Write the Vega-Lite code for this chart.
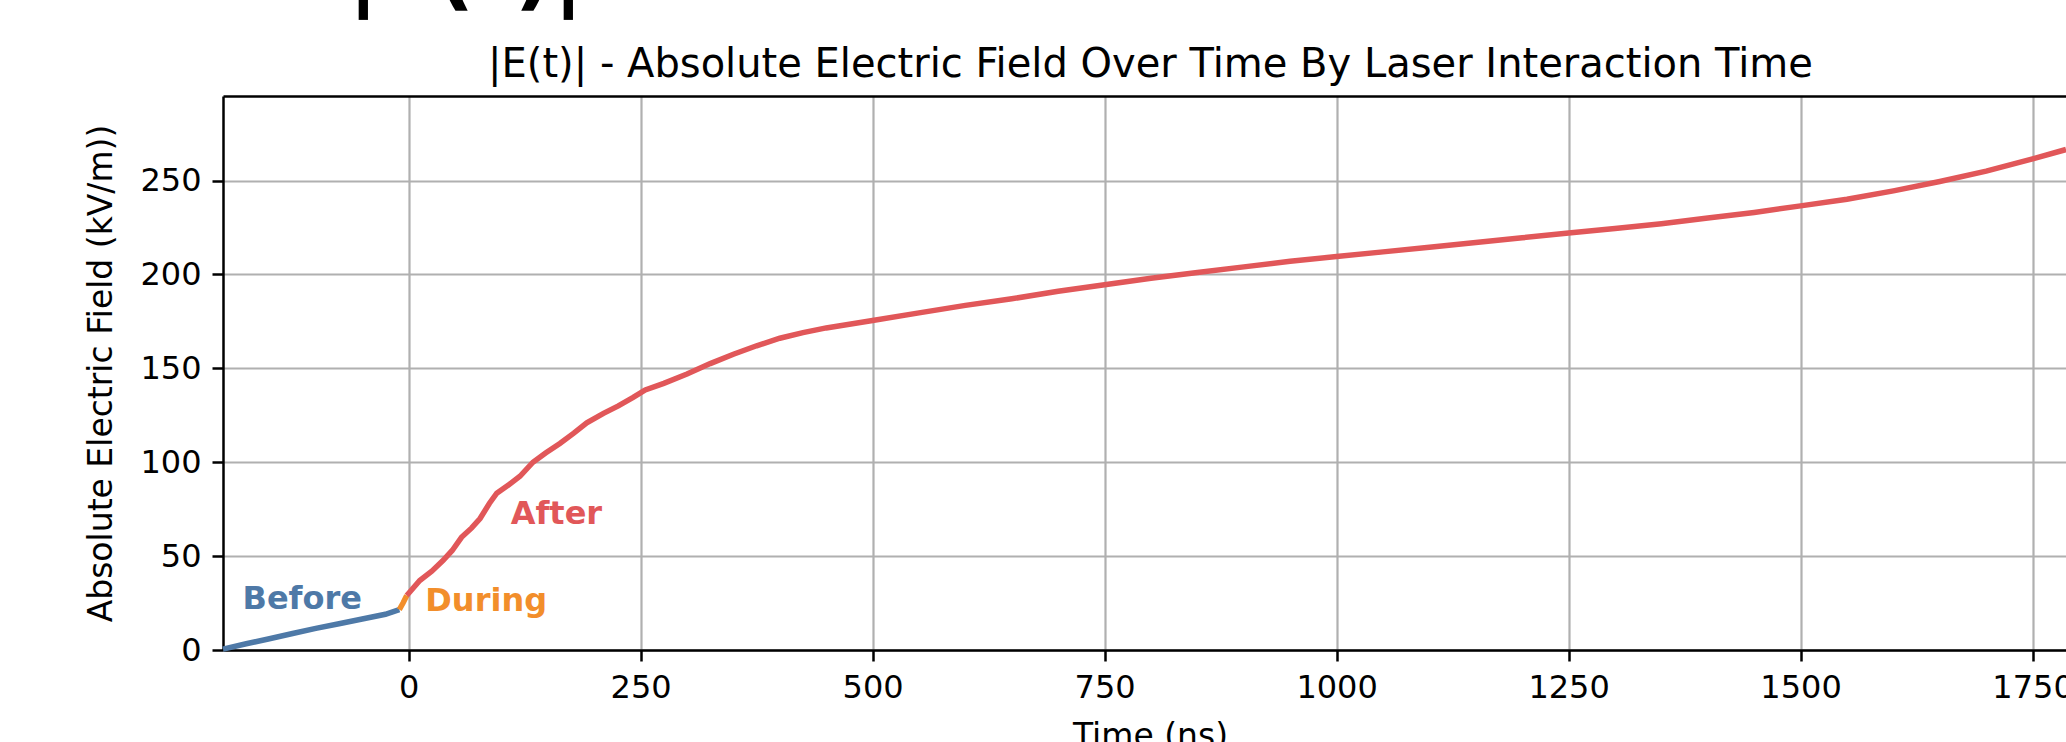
{
  "$schema": "https://vega.github.io/schema/vega-lite/v6.json",
  "width": 1843,
  "height": 554,
  "autosize": "none",
  "padding": {"left": 223, "top": 96, "right": 0, "bottom": 92},
  "background": "white",
  "title": {"text": "|E(t)|", "fontSize": 84, "font": "DejaVu Sans", "fontWeight": "bold", "color": "black", "anchor": "start", "frame": "group", "offset": 30, "dx": 125, "dy": 4},
  "config": {
    "view": {"stroke": null},
    "axis": {
      "labelFont": "DejaVu Sans", "labelFontSize": 32, "labelColor": "black",
      "titleFont": "DejaVu Sans", "titleFontSize": 33, "titleFontWeight": "normal", "titleColor": "black",
      "tickColor": "black", "tickSize": 11, "tickWidth": 2.5,
      "domainColor": "black", "domainWidth": 2.5,
      "gridColor": "#b0b0b0", "gridWidth": 2.2, "gridOpacity": 1,
      "labelPadding": 11
    }
  },
  "datasets": {
    "curve": [
      {"t": -200, "v": 0.5, "phase": "Before"},
      {"t": -175, "v": 3.3, "phase": "Before"},
      {"t": -150, "v": 6.0, "phase": "Before"},
      {"t": -125, "v": 8.8, "phase": "Before"},
      {"t": -100, "v": 11.5, "phase": "Before"},
      {"t": -75, "v": 14.0, "phase": "Before"},
      {"t": -50, "v": 16.5, "phase": "Before"},
      {"t": -25, "v": 19.0, "phase": "Before"},
      {"t": -10, "v": 21.5, "phase": "Before"},
      {"t": -10, "v": 21.5, "phase": "During"},
      {"t": -6, "v": 25, "phase": "During"},
      {"t": -2, "v": 29, "phase": "During"},
      {"t": -2, "v": 29, "phase": "After"},
      {"t": 5, "v": 33, "phase": "After"},
      {"t": 12, "v": 37, "phase": "After"},
      {"t": 25, "v": 42, "phase": "After"},
      {"t": 37, "v": 47.6, "phase": "After"},
      {"t": 47, "v": 53, "phase": "After"},
      {"t": 57, "v": 60, "phase": "After"},
      {"t": 68, "v": 65, "phase": "After"},
      {"t": 77, "v": 70, "phase": "After"},
      {"t": 87, "v": 78, "phase": "After"},
      {"t": 95, "v": 83.5, "phase": "After"},
      {"t": 108, "v": 88, "phase": "After"},
      {"t": 120, "v": 92.5, "phase": "After"},
      {"t": 134, "v": 100, "phase": "After"},
      {"t": 148, "v": 105, "phase": "After"},
      {"t": 163, "v": 110, "phase": "After"},
      {"t": 178, "v": 115.5, "phase": "After"},
      {"t": 192, "v": 121, "phase": "After"},
      {"t": 210, "v": 126, "phase": "After"},
      {"t": 226, "v": 130, "phase": "After"},
      {"t": 242, "v": 134.5, "phase": "After"},
      {"t": 255, "v": 138.5, "phase": "After"},
      {"t": 275, "v": 142, "phase": "After"},
      {"t": 300, "v": 147, "phase": "After"},
      {"t": 325, "v": 152.5, "phase": "After"},
      {"t": 350, "v": 157.5, "phase": "After"},
      {"t": 375, "v": 162, "phase": "After"},
      {"t": 400, "v": 166, "phase": "After"},
      {"t": 425, "v": 169, "phase": "After"},
      {"t": 450, "v": 171.5, "phase": "After"},
      {"t": 475, "v": 173.5, "phase": "After"},
      {"t": 500, "v": 175.5, "phase": "After"},
      {"t": 550, "v": 179.5, "phase": "After"},
      {"t": 600, "v": 183.5, "phase": "After"},
      {"t": 650, "v": 187, "phase": "After"},
      {"t": 700, "v": 191, "phase": "After"},
      {"t": 750, "v": 194.5, "phase": "After"},
      {"t": 800, "v": 198, "phase": "After"},
      {"t": 850, "v": 201, "phase": "After"},
      {"t": 900, "v": 204, "phase": "After"},
      {"t": 950, "v": 207, "phase": "After"},
      {"t": 1000, "v": 209.5, "phase": "After"},
      {"t": 1050, "v": 212, "phase": "After"},
      {"t": 1100, "v": 214.5, "phase": "After"},
      {"t": 1150, "v": 217, "phase": "After"},
      {"t": 1200, "v": 219.5, "phase": "After"},
      {"t": 1250, "v": 222, "phase": "After"},
      {"t": 1300, "v": 224.5, "phase": "After"},
      {"t": 1350, "v": 227, "phase": "After"},
      {"t": 1400, "v": 230, "phase": "After"},
      {"t": 1450, "v": 233, "phase": "After"},
      {"t": 1500, "v": 236.5, "phase": "After"},
      {"t": 1550, "v": 240, "phase": "After"},
      {"t": 1600, "v": 244.5, "phase": "After"},
      {"t": 1650, "v": 249.5, "phase": "After"},
      {"t": 1700, "v": 255, "phase": "After"},
      {"t": 1750, "v": 261.5, "phase": "After"},
      {"t": 1786, "v": 266.5, "phase": "After"}
    ],
    "labels": [
      {"t": -179, "v": 22, "label": "Before", "phase": "Before"},
      {"t": 18, "v": 21, "label": "During", "phase": "During"},
      {"t": 110, "v": 67, "label": "After", "phase": "After"}
    ]
  },
  "resolve": {"axis": {"x": "independent"}},
  "layer": [
    {
      "data": {"name": "curve"},
      "mark": {"type": "line", "strokeWidth": 5.5, "strokeCap": "butt"},
      "encoding": {
        "x": {"field": "t", "type": "quantitative",
              "scale": {"domain": [-200, 1786], "nice": false, "zero": false},
              "axis": {"orient": "bottom", "title": "Time (ns)", "format": "d", "values": [0, 250, 500, 750, 1000, 1250, 1500, 1750], "grid": true, "titlePadding": 17, "titleX": 927}},
        "y": {"field": "v", "type": "quantitative",
              "scale": {"domain": [0, 295], "nice": false, "zero": true},
              "axis": {"title": "Absolute Electric Field (kV/m))", "format": "d", "values": [0, 50, 100, 150, 200, 250], "grid": true, "titlePadding": 21}},
        "color": {"field": "phase", "type": "nominal",
                  "scale": {"domain": ["Before", "During", "After"], "range": ["#4e79a7", "#f28e2b", "#e15759"]},
                  "legend": null}
      }
    },
    {
      "data": {"name": "labels"},
      "mark": {"type": "text", "align": "left", "baseline": "alphabetic", "font": "DejaVu Sans", "fontSize": 32, "fontWeight": "bold"},
      "encoding": {
        "x": {"field": "t", "type": "quantitative",
              "axis": {"orient": "top", "title": "|E(t)| - Absolute Electric Field Over Time By Laser Interaction Time", "titleFontSize": 40, "labels": false, "ticks": false, "grid": false, "titlePadding": 12, "titleX": 927}},
        "y": {"field": "v", "type": "quantitative",
              "axis": {"title": "Absolute Electric Field (kV/m))", "format": "d", "values": [0, 50, 100, 150, 200, 250], "grid": true, "titlePadding": 21}},
        "text": {"field": "label"},
        "color": {"field": "phase", "type": "nominal", "legend": null}
      }
    }
  ]
}
